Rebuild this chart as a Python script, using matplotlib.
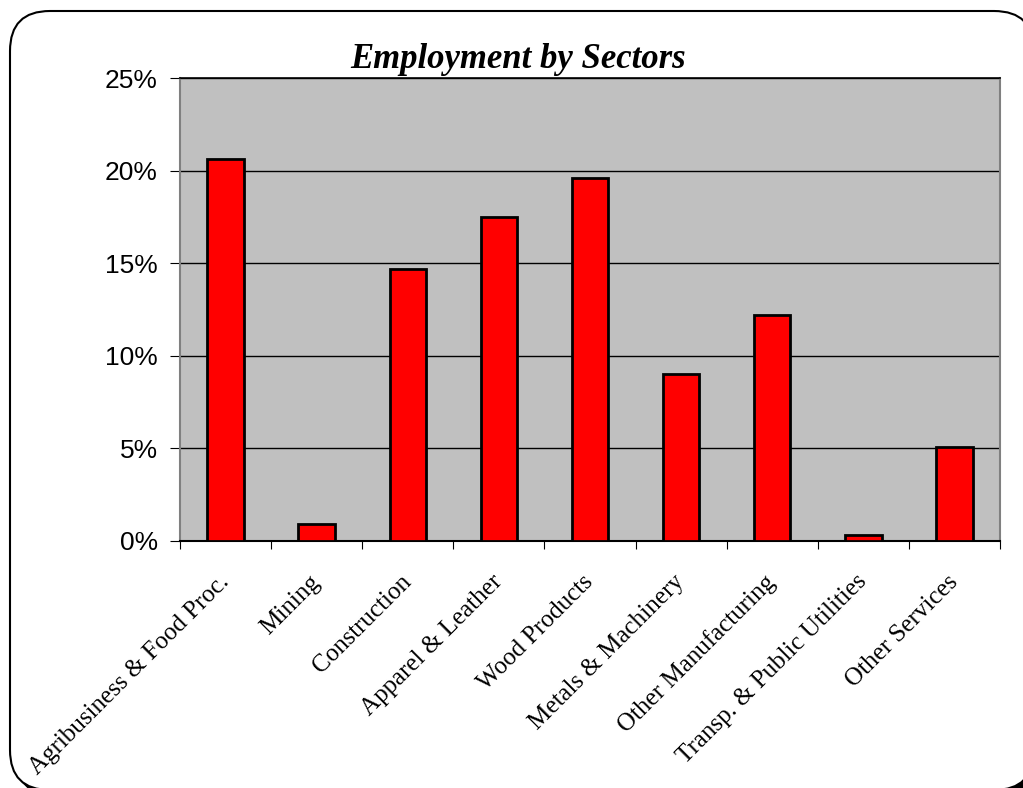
import numpy as np
import matplotlib
matplotlib.use('Agg')
import matplotlib.pyplot as plt
import matplotlib.patches as mpatches
from matplotlib.ticker import FuncFormatter, MultipleLocator

# data
sectors = ['Agribusiness & Food Proc.', 'Mining', 'Construction', 'Apparel & Leather',
           'Wood Products', 'Metals & Machinery', 'Other Manufacturing',
           'Transp. & Public Utilities', 'Other Services']
share = [20.6, 0.9, 14.7, 17.5, 19.6, 9.0, 12.2, 0.3, 5.1]

fig = plt.figure(figsize=(10.23, 7.88), dpi=100)
fig.patch.set_facecolor('white')

# rounded frame with a shadow (pixel coordinates), running off the right/bottom edge
shadow = mpatches.FancyBboxPatch((16, -8), 1030, 778, boxstyle='round,pad=0,rounding_size=40',
                                 transform=None, facecolor='black', edgecolor='black', zorder=-2)
frame = mpatches.FancyBboxPatch((10, -2), 1024, 779, boxstyle='round,pad=0,rounding_size=40',
                                transform=None, facecolor='white', edgecolor='black', lw=1.5, zorder=-1)
fig.add_artist(shadow)
fig.add_artist(frame)

ax = fig.add_axes([180 / 1023, 1 - 541 / 788, 820 / 1023, 463 / 788])
ax.set_facecolor('#C0C0C0')

x = np.arange(len(sectors))
ax.bar(x, share, width=0.4, color='#FF0000', edgecolor='black', linewidth=2, zorder=3)

ax.set_xlim(-0.5, len(sectors) - 0.5)
ax.set_ylim(0, 25)
ax.yaxis.set_major_locator(MultipleLocator(5))
ax.yaxis.set_major_formatter(FuncFormatter(lambda v, p: '%d%%' % v))
ax.grid(axis='y', color='black', lw=1, zorder=1)

# ticks between categories, labels at centres
ax.set_xticks(np.arange(-0.5, len(sectors), 1))
ax.set_xticklabels([])
ax.set_xticks(x, minor=True)
ax.set_xticklabels(sectors, minor=True, rotation=45, ha='right', va='center',
                   rotation_mode='anchor', family='Liberation Serif', fontsize=18)
ax.tick_params(axis='x', which='minor', length=0, pad=27)
ax.tick_params(axis='x', which='major', length=6, color='black', direction='out')
ax.tick_params(axis='y', length=7, color='black', pad=9, labelsize=19)
for lab in ax.get_yticklabels():
    lab.set_family('Liberation Sans')

for s in ['left', 'right']:
    ax.spines[s].set_color('#808080')
    ax.spines[s].set_linewidth(1.5)
ax.spines['top'].set_color('black')
ax.spines['top'].set_linewidth(1.2)
ax.spines['bottom'].set_color('black')
ax.spines['bottom'].set_linewidth(1.5)

fig.text(518 / 1023, 1 - 60 / 788, 'Employment by Sectors', ha='center', va='center',
         family='Liberation Serif', fontsize=25, fontweight='bold', style='italic')

fig.savefig('out.png', dpi=100)
